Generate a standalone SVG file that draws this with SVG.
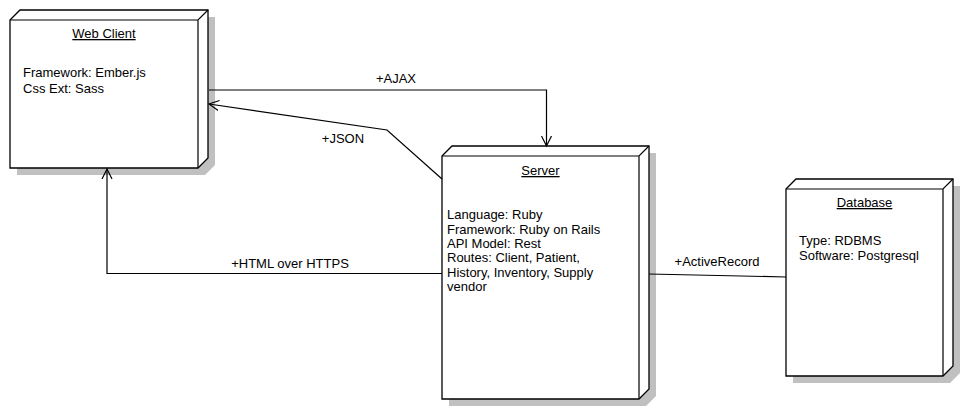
<svg xmlns="http://www.w3.org/2000/svg" width="963" height="411" viewBox="0 0 963 411">
<style>
text{font-family:"Liberation Sans",Arial,sans-serif;font-size:13px;fill:#000}
.t{text-anchor:middle;text-decoration:underline}
.c{text-anchor:middle}
.sh{fill:#c0c0c0;stroke:none}
.face{fill:#fff;stroke:#000;stroke-width:1.3}
.ln{fill:none;stroke:#000;stroke-width:1.2}
</style>
<defs>
<marker id="open" markerWidth="12" markerHeight="12" refX="10" refY="5" orient="auto" markerUnits="userSpaceOnUse" viewBox="0 0 12 10">
<path d="M0,0 L10,5 L0,10" fill="none" stroke="#000" stroke-width="1.2"/>
</marker>
</defs>
<rect width="963" height="411" fill="#fff"/>
<g id="web-client">
<path class="sh" d="M208,17 L215,17 L215,165 L205,175 L17,175 L17,168 L198,168 L208,158 Z"/>
<path class="face" d="M10,20 L20,10 L208,10 L208,158 L198,168 L10,168 Z"/>
<path class="ln" d="M10,20 L198,20 L208,10 M198,20 L198,168"/>
<text class="t" x="104" y="38">Web Client</text>
<text x="23" y="77">Framework: Ember.js</text>
<text x="23" y="93">Css Ext: Sass</text>
</g>
<g id="server">
<path class="sh" d="M649,153 L656,153 L656,396 L646,406 L449,406 L449,399 L639,399 L649,389 Z"/>
<path class="face" d="M442,156 L452,146 L649,146 L649,389 L639,399 L442,399 Z"/>
<path class="ln" d="M442,156 L639,156 L649,146 M639,156 L639,399"/>
<text class="t" x="540.5" y="175">Server</text>
<text x="447" y="219">Language: Ruby</text>
<text x="447" y="234">Framework: Ruby on Rails</text>
<text x="447" y="248">API Model: Rest</text>
<text x="447" y="262">Routes: Client, Patient,</text>
<text x="447" y="277">History, Inventory, Supply</text>
<text x="447" y="291">vendor</text>
</g>
<g id="database">
<path class="sh" d="M953,186 L960,186 L960,373 L950,383 L793,383 L793,376 L943,376 L953,366 Z"/>
<path class="face" d="M786,189 L796,179 L953,179 L953,366 L943,376 L786,376 Z"/>
<path class="ln" d="M786,189 L943,189 L953,179 M943,189 L943,376"/>
<text class="t" x="864.5" y="207">Database</text>
<text x="799" y="245">Type: RDBMS</text>
<text x="799" y="260">Software: Postgresql</text>
</g>
<g id="connectors">
<path class="ln" d="M209,90 L546.5,90 L546.5,146" marker-end="url(#open)"/>
<text class="c" x="396" y="83">+AJAX</text>
<path class="ln" d="M442,179 L387,130 L209,104" marker-end="url(#open)"/>
<text class="c" x="343" y="143">+JSON</text>
<path class="ln" d="M442,273.5 L107,273.5 L107,169" marker-end="url(#open)"/>
<text class="c" x="290" y="268">+HTML over HTTPS</text>
<path class="ln" d="M649,274 L786,277"/>
<text class="c" x="717" y="266">+ActiveRecord</text>
</g>
</svg>
